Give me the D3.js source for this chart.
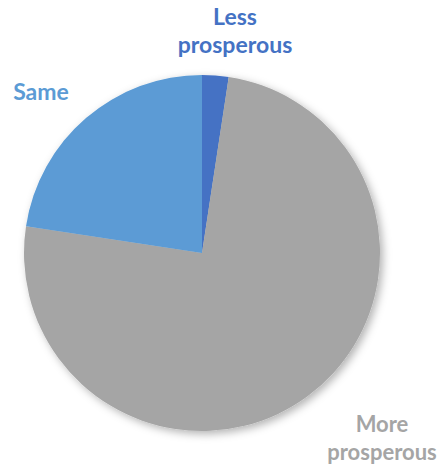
<!DOCTYPE html>
<html>
<head>
<meta charset="utf-8">
<script src="https://cdn.jsdelivr.net/npm/d3@7"></script>
<style>
  html, body { margin: 0; padding: 0; background: #fff; }
  svg { display: block; }
</style>
</head>
<body>
<svg id="chart" width="448" height="476"></svg>
<script>
// Share of respondents by outlook (percent)
const categories = ["Less prosperous", "More prosperous", "Same"];
const values = [2.4, 75.0, 22.6];
const colors = ["#4472C4", "#A5A5A5", "#5B9BD5"];

const width = 448, height = 476;
const cx = 202, cy = 253, radius = 178;

const svg = d3.select("#chart");

const defs = svg.append("defs");
const shadow = defs.append("filter")
  .attr("id", "pieShadow")
  .attr("x", "-20%").attr("y", "-20%")
  .attr("width", "140%").attr("height", "140%");
shadow.append("feDropShadow")
  .attr("dx", 3).attr("dy", 3)
  .attr("stdDeviation", 4)
  .attr("flood-color", "#000")
  .attr("flood-opacity", 0.3);

const data = categories.map((c, i) => ({ category: c, value: values[i], color: colors[i] }));

const pie = d3.pie()
  .value(d => d.value)
  .sort(null);

const arc = d3.arc()
  .innerRadius(0)
  .outerRadius(radius);

const g = svg.append("g")
  .attr("transform", `translate(${cx},${cy})`);

g.append("g")
  .attr("filter", "url(#pieShadow)")
  .selectAll("path")
  .data(pie(data))
  .join("path")
  .attr("d", arc)
  .attr("fill", d => d.data.color);

// Category labels, each split over lines, placed around the pie
const labelLayout = {
  "Less prosperous": { x: 33, y: -228, size: 23, lines: ["Less", "prosperous"] },
  "Same":            { x: -161, y: -153, size: 23, lines: ["Same"] },
  "More prosperous": { x: 180, y: 179, size: 22, lines: ["More", "prosperous"] }
};

const lineGap = 28;
data.forEach(d => {
  const L = labelLayout[d.category];
  L.lines.forEach((line, i) => {
    g.append("text")
      .attr("text-anchor", "middle")
      .attr("font-family", "Lato, sans-serif")
      .attr("font-weight", "bold")
      .attr("font-size", L.size)
      .attr("fill", d.color)
      .attr("x", L.x)
      .attr("y", L.y + i * lineGap)
      .text(line);
  });
});
</script>
</body>
</html>
